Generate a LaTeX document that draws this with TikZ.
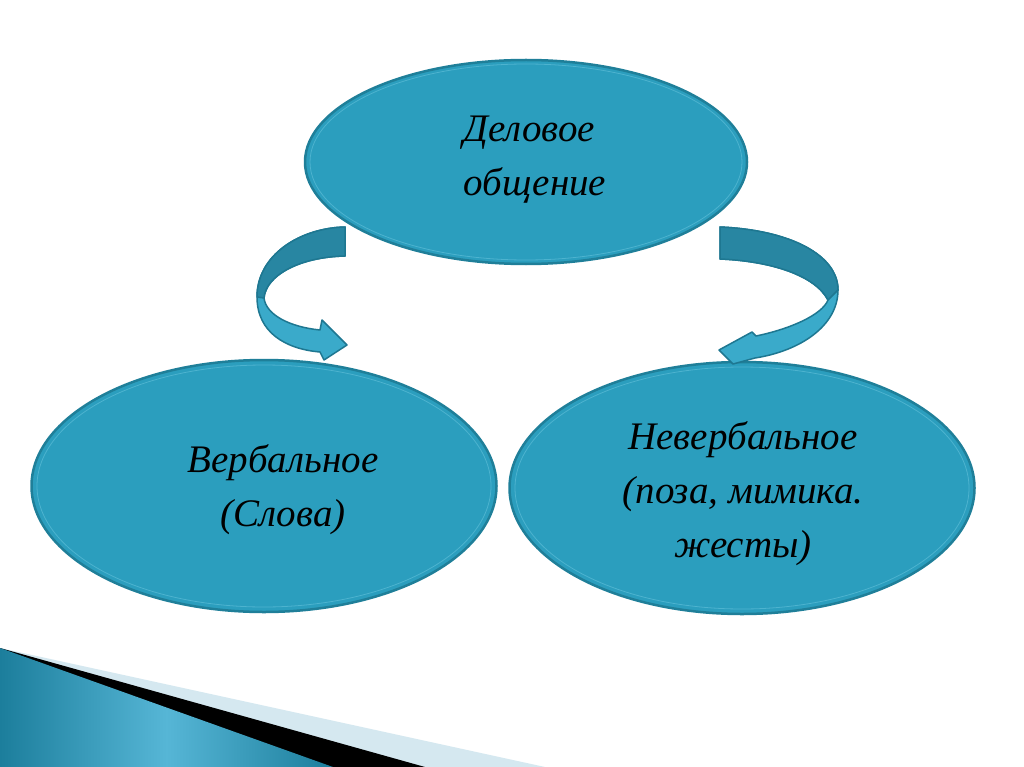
\documentclass[tikz,border=0pt]{standalone}
\usepackage{fontspec}
\setmainfont{Liberation Serif}
\usetikzlibrary{shapes.geometric}
\definecolor{ellfill}{HTML}{2B9EBE}
\definecolor{elledge}{HTML}{1F7F99}
\definecolor{ellinner}{HTML}{4DB3CF}
\definecolor{arrdark}{HTML}{2886A2}
\definecolor{arrlight}{HTML}{3AAACA}
\definecolor{arredge}{HTML}{1E7791}
\definecolor{wedgelight}{HTML}{D5E8F0}
\definecolor{tealA}{HTML}{1C7E9C}
\definecolor{tealB}{HTML}{56B6D6}
\tikzset{
  oval/.style={ellipse, fill=ellfill, draw=elledge, line width=2.5pt, inner sep=0pt},
  ovaltext/.style={font=\itshape\fontsize{39}{54}\selectfont, text=black, inner sep=0pt},
  arrowpart/.style={draw=arredge, line width=1.5pt, line join=round},
}
\begin{document}
\begin{tikzpicture}[x=1pt,y=-1pt]
\useasboundingbox[fill=white] (0,0) rectangle (1024,767);
% bottom-left decoration
\fill[wedgelight] (0,648) -- (545,767) -- (0,767) -- cycle;
\fill[black] (0,648) -- (425,767) -- (0,767) -- cycle;
\shade[left color=tealA, right color=tealA, middle color=tealB] (0,648) -- (333,767) -- (0,767) -- cycle;
% ellipses
\node[oval, minimum width=442pt, minimum height=204pt] (top) at (526,162) {};
\node[oval, minimum width=465pt, minimum height=252pt] (verb) at (264,486) {};
\node[oval, minimum width=465pt, minimum height=252pt] (nonverb) at (742,488) {};
\draw[ellinner, line width=0.8pt] (top.center) ellipse (216pt and 98pt);
\draw[ellinner, line width=0.8pt] (verb.center) ellipse (227pt and 121pt);
\draw[ellinner, line width=0.8pt] (nonverb.center) ellipse (227pt and 121pt);
% texts
\node[ovaltext, align=left] (ttop) at (535,160) {Деловое\\общение};
\node[ovaltext, align=center] (tverb) at (283,490) {Вербальное\\(Слова)};
\node[ovaltext, align=center] (tnon) at (743,494) {Невербальное\\(поза, мимика.\\жесты)};
% left curved arrow
\filldraw[arrowpart, fill=arrlight]
  (345,227) .. controls (300,228) and (257,255) .. (257,297)
  .. controls (257,332) and (285,349) .. (320,352)
  -- (324,360) -- (347,345) -- (322,320) -- (320,330)
  .. controls (290,327) and (266,315) .. (264,298)
  .. controls (266,275) and (300,257) .. (345,256) -- cycle;
\filldraw[arrowpart, fill=arrdark]
  (345,227) .. controls (300,228) and (257,255) .. (257,297)
  -- (264,298)
  .. controls (266,275) and (300,257) .. (345,256) -- cycle;
% right curved arrow
\filldraw[arrowpart, fill=arrlight]
  (720,227) .. controls (790,230) and (838,255) .. (838,290)
  .. controls (838,326) and (800,351) .. (755,358)
  -- (733,364) -- (719,350) -- (752,332) -- (756,336)
  .. controls (790,329) and (822,315) .. (828,300)
  .. controls (815,275) and (770,261) .. (720,259) -- cycle;
\filldraw[arrowpart, fill=arrdark]
  (720,227) .. controls (790,230) and (838,255) .. (838,290)
  -- (828,300)
  .. controls (815,275) and (770,261) .. (720,259) -- cycle;
\end{tikzpicture}
\end{document}
